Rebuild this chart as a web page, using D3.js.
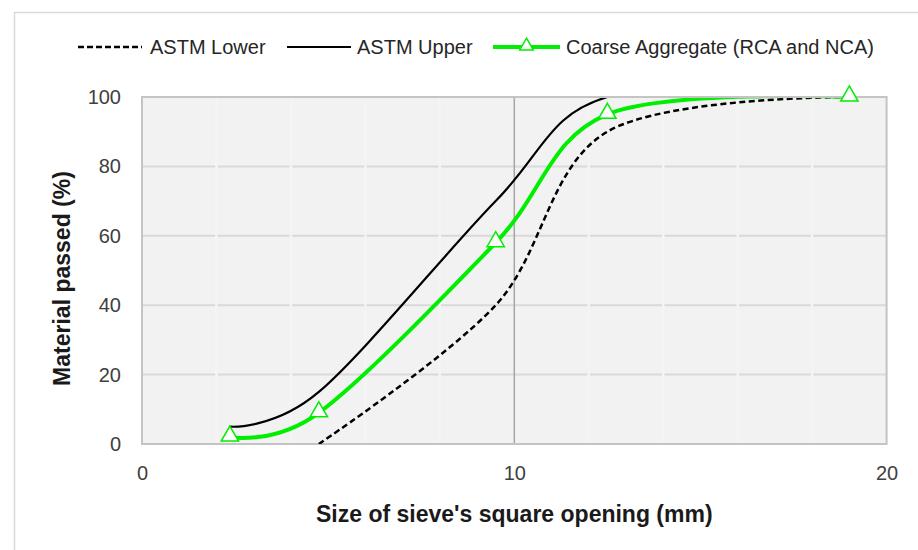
<!DOCTYPE html>
<html>
<head>
<meta charset="utf-8">
<script src="https://cdn.jsdelivr.net/npm/d3@7/dist/d3.min.js"></script>
<style>
  html, body { margin: 0; padding: 0; background: #fff; }
  svg { display: block; font-family: "Liberation Sans", Arial, sans-serif; }
</style>
</head>
<body>
<svg id="chart" width="918" height="550"></svg>
<script>
// Sieve sizes (mm) and percentage passing for each gradation curve
const lowerSieves = [4.75, 9.5, 12.5, 19];
const lowerPassing = [0, 40, 90, 100];

const upperSieves = [2.36, 4.75, 9.5, 12.5, 19];
const upperPassing = [5, 15, 70, 100, 100];

const aggSieves = [2.36, 4.75, 9.5, 12.5, 19];
const aggPassing = [2, 9, 58, 95, 100];

const xTicks = [0, 10, 20];
const yTicks = [0, 20, 40, 60, 80, 100];
const xMinor = [2, 4, 6, 8, 12, 14, 16, 18];

const seriesNames = ["ASTM Lower", "ASTM Upper", "Coarse Aggregate (RCA and NCA)"];
const xTitle = "Size of sieve's square opening (mm)";
const yTitle = "Material passed (%)";

const GREEN = "#00ee00";

const svg = d3.select("#chart");

// chart frame
svg.append("rect")
  .attr("x", 14.5).attr("y", 12.5)
  .attr("width", 1000).attr("height", 1000)
  .attr("fill", "#fff").attr("stroke", "#d9d9d9").attr("stroke-width", 1.5);

const x = d3.scaleLinear().domain([0, 20]).range([142, 886.6]);
const y = d3.scaleLinear().domain([0, 100]).range([444, 97]);

// clip region for the series (plot area interior)
svg.append("defs").append("clipPath").attr("id", "plot-clip")
  .append("rect")
  .attr("x", x(0)).attr("y", y(100) + 1)
  .attr("width", x(20) - x(0)).attr("height", y(0) - y(100) - 1);

// plot area
svg.append("rect")
  .attr("x", x(0)).attr("y", y(100))
  .attr("width", x(20) - x(0)).attr("height", y(0) - y(100))
  .attr("fill", "#f2f2f2");

// horizontal gridlines
svg.append("g").selectAll("line")
  .data(yTicks.filter(d => d > 0 && d < 100))
  .join("line")
  .attr("x1", x(0)).attr("x2", x(20))
  .attr("y1", d => y(d)).attr("y2", d => y(d))
  .attr("stroke", "#d9d9d9").attr("stroke-width", 2);

// minor vertical gridlines (drawn in the plot fill colour)
svg.append("g").selectAll("line")
  .data(xMinor)
  .join("line")
  .attr("x1", d => x(d)).attr("x2", d => x(d))
  .attr("y1", y(100)).attr("y2", y(0))
  .attr("stroke", "#f4f4f4").attr("stroke-width", 2.5);

// major vertical gridline
svg.append("line")
  .attr("x1", x(10)).attr("x2", x(10))
  .attr("y1", y(100)).attr("y2", y(0))
  .attr("stroke", "#a6a6a6").attr("stroke-width", 1.5);

// plot border
svg.append("rect")
  .attr("x", x(0)).attr("y", y(100))
  .attr("width", x(20) - x(0)).attr("height", y(0) - y(100))
  .attr("fill", "none").attr("stroke", "#c4c4c4").attr("stroke-width", 2);

// axes
const yAxis = svg.append("g")
  .attr("transform", `translate(${x(0)},0)`)
  .call(d3.axisLeft(y).tickValues(yTicks).tickSize(0).tickPadding(21));
yAxis.select(".domain").remove();
yAxis.selectAll("text").attr("font-size", 20).attr("fill", "#404040")
  .attr("font-family", "Liberation Sans, Arial, sans-serif");

const xAxis = svg.append("g")
  .attr("transform", `translate(0,${y(0)})`)
  .call(d3.axisBottom(x).tickValues(xTicks).tickSize(0).tickPadding(22));
xAxis.select(".domain").remove();
xAxis.selectAll("text").attr("font-size", 20).attr("fill", "#404040")
  .attr("font-family", "Liberation Sans, Arial, sans-serif");

// axis titles
svg.append("text")
  .attr("x", x(10)).attr("y", 522)
  .attr("text-anchor", "middle")
  .attr("font-size", 23).attr("font-weight", "bold").attr("fill", "#1a1a1a")
  .text(xTitle);

svg.append("text")
  .attr("transform", `translate(70,${(y(0) + y(100)) / 2 + 8}) rotate(-90)`)
  .attr("text-anchor", "middle")
  .attr("font-size", 23).attr("font-weight", "bold").attr("fill", "#1a1a1a")
  .text(yTitle);

// curves
const toPts = (xs, ys) => xs.map((d, i) => [d, ys[i]]);
const line = d3.line()
  .x(d => x(d[0])).y(d => y(d[1]))
  .curve(d3.curveCatmullRom.alpha(0));

const series = svg.append("g").attr("clip-path", "url(#plot-clip)");

series.append("path")
  .attr("d", line(toPts(lowerSieves, lowerPassing)))
  .attr("fill", "none").attr("stroke", "#000")
  .attr("stroke-width", 2.5).attr("stroke-dasharray", "6,3.5");

series.append("path")
  .attr("d", line(toPts(upperSieves, upperPassing)))
  .attr("fill", "none").attr("stroke", "#000").attr("stroke-width", 2.2);

series.append("path")
  .attr("d", line(toPts(aggSieves, aggPassing)))
  .attr("fill", "none").attr("stroke", GREEN).attr("stroke-width", 4);

const tri = d3.symbol().type(d3.symbolTriangle).size(130);
svg.append("g").selectAll("path")
  .data(toPts(aggSieves, aggPassing))
  .join("path")
  .attr("transform", d => `translate(${x(d[0])},${y(d[1]) - 1})`)
  .attr("d", tri)
  .attr("fill", "#fff").attr("stroke", GREEN).attr("stroke-width", 1.5);

// legend
const legY = 47;
const legend = [
  { name: seriesNames[0], x0: 78, x1: 142, tx: 150, dash: "6,3", color: "#000", w: 2.5, marker: false },
  { name: seriesNames[1], x0: 287, x1: 351, tx: 357, dash: null, color: "#000", w: 2.2, marker: false },
  { name: seriesNames[2], x0: 493, x1: 560, tx: 566, dash: null, color: GREEN, w: 4, marker: true }
];
const lg = svg.append("g").selectAll("g").data(legend).join("g");
lg.append("line")
  .attr("x1", d => d.x0).attr("x2", d => d.x1)
  .attr("y1", legY).attr("y2", legY)
  .attr("stroke", d => d.color).attr("stroke-width", d => d.w)
  .attr("stroke-dasharray", d => d.dash);
lg.filter(d => d.marker).append("path")
  .attr("transform", d => `translate(${(d.x0 + d.x1) / 2},${legY - 1})`)
  .attr("d", d3.symbol().type(d3.symbolTriangle).size(80))
  .attr("fill", "#fff").attr("stroke", GREEN).attr("stroke-width", 1.5);
lg.append("text")
  .attr("x", d => d.tx).attr("y", legY + 7)
  .attr("font-size", 20).attr("fill", "#262626")
  .text(d => d.name);
</script>
</body>
</html>
